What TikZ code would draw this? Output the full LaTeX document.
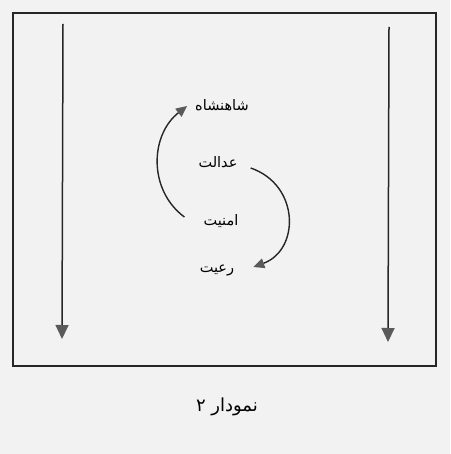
\documentclass[tikz,border=0pt]{standalone}
\usepackage{fontspec}
\TeXXeTstate=1
\newfontfamily\arabicfont[Script=Arabic]{DejaVu Sans}
\usetikzlibrary{arrows.meta,calc}
\definecolor{bgcol}{RGB}{242,242,242}
\definecolor{headcol}{RGB}{90,90,90}
\begin{document}
\begin{tikzpicture}[x=1pt,y=-1pt,
  lbl/.style={font=\arabicfont\fontsize{14.5}{16}\selectfont, inner sep=1pt},
  captionlbl/.style={font=\arabicfont\fontsize{18}{20}\selectfont, inner sep=1pt},
  frameline/.style={draw=black!85, line width=1.6pt},
  longarrow/.style={draw=black!85, line width=1.5pt, -{Triangle[length=14pt,width=13pt,fill=headcol,color=headcol]}},
  curvarrow/.style={draw=black!85, line width=1.4pt, -{Triangle[length=11pt,width=10pt,fill=headcol,color=headcol]}}]
\useasboundingbox (0,0) rectangle (450,454);
\fill[bgcol] (0,0) rectangle (450,454);
\draw[frameline] (13,13) rectangle (436,366);
\coordinate (la1) at (63,24);
\coordinate (la2) at (62,339);
\coordinate (ra1) at (389,27);
\coordinate (ra2) at (388,342);
\draw[longarrow] (la1) -- (la2);
\draw[longarrow] (ra1) -- (ra2);
\node[lbl] (shah) at (222,105) {\beginR شاهنشاه\endR};
\node[lbl] (adl) at (218,162) {\beginR عدالت\endR};
\node[lbl] (amn) at (221,221) {\beginR امنیت\endR};
\node[lbl] (raiyat) at (217,270) {\beginR رعیت\endR};
\node[captionlbl] (caption) at (227,407) {\beginR نمودار ۲\endR};
\draw[curvarrow] ($(amn.west)+(-18,-4)$) .. controls (148,190) and (150,135) .. ($(shah.west)+(-7,1)$);
\draw[curvarrow] ($(adl.east)+(12,6)$) .. controls (300,185) and (300,250) .. ($(raiyat.east)+(18,-3)$);
\end{tikzpicture}
\end{document}
